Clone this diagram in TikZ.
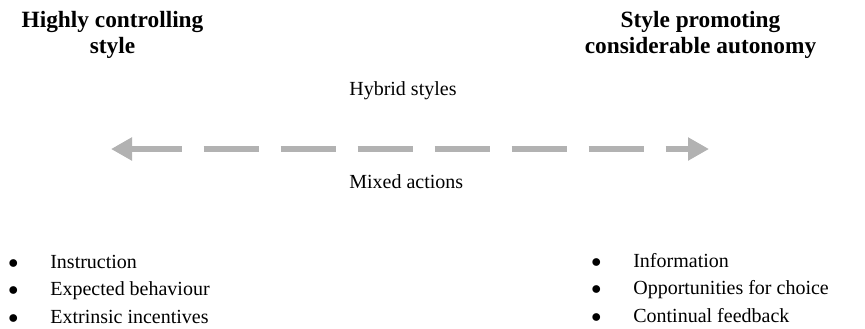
\documentclass[tikz,border=0pt]{standalone}
\usepackage{fontspec}
\setmainfont{Liberation Serif}
\usetikzlibrary{arrows.meta}
\newcommand{\bul}{\makebox[25.2pt][l]{$\bullet$}} % bullet with its gap before the text
\tikzset{
x=0.6pt, y=-0.6pt, % one unit is one pixel of the sketch, y runs down
every node/.style={inner sep=0pt}, % text sits exactly on its coordinate
heading/.style={font=\fontsize{14}{15.6}\selectfont\bfseries, align=center, anchor=base}, % base = last line
midtext/.style={font=\fontsize{12}{14}\selectfont, anchor=base west},
item/.style={font=\fontsize{12}{14}\selectfont, anchor=base west},
range arrow/.style={black!30, line width=3.6pt,
  {Triangle[length=12.6pt,width=13.2pt]}-{Triangle[length=12.6pt,width=13.2pt]},
  dash pattern=on 33pt off 13.2pt, dash phase=2.4pt}, % the grey dashed two-way arrow
}
\begin{document}
\begin{tikzpicture}
            \useasboundingbox (0,0) rectangle (865,328);

            \node[heading] (ctrlhead) at (112.5,53) {Highly controlling\\style};
            \node[heading] (autohead) at (700.5,53) {Style promoting\\considerable autonomy};

            \coordinate (ctrlend) at (111,149);
            \coordinate (autoend) at (709,149);
            \draw[range arrow] (ctrlend) -- (autoend);

            \node[midtext] (hybrid) at (349,95) {Hybrid styles};
            \node[midtext] (mixed) at (349,188) {Mixed actions};

            % controlling side
            \node[item] (instr) at (8,268) {\bul Instruction};
            \node[item] (expect) at (8,295.5) {\bul Expected behaviour};
            \node[item] (extrin) at (8,323) {\bul Extrinsic incentives};
            % autonomy side
            \node[item] (info) at (591,267) {\bul Information};
            \node[item] (choice) at (591,294.5) {\bul Opportunities for choice};
            \node[item] (feedback) at (591,322) {\bul Continual feedback};
        \end{tikzpicture}
\end{document}
